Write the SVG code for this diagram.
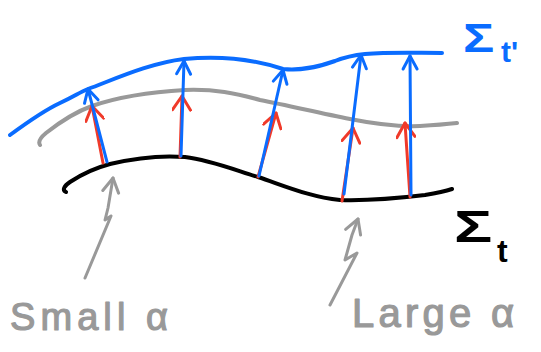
<svg xmlns="http://www.w3.org/2000/svg" width="541" height="352" viewBox="0 0 541 352">
<style>
.curve{fill:none;stroke-width:4;stroke-linecap:round;stroke-linejoin:round}
.blue{stroke:#0a6cff}
.gray{stroke:#999999}
.black{stroke:#000000}
.red{stroke:#f03a2a}
.shaft{fill:none;stroke-width:3;stroke-linecap:round;stroke-linejoin:round}
.lbl{font-family:"Liberation Sans",Arial,sans-serif}
.note{fill:#999999;stroke:#999999;stroke-width:1.2;stroke-linejoin:round}
</style>
<defs>
<marker id="hb" viewBox="-16 -10 20 20" markerWidth="20" markerHeight="20" refX="0" refY="0" orient="auto" markerUnits="userSpaceOnUse">
<path d="M-13,-7 L0,0 L-13,7" fill="none" stroke="#0a6cff" stroke-width="3" stroke-linecap="round" stroke-linejoin="round"/>
</marker>
<marker id="hr" viewBox="-16 -10 20 20" markerWidth="20" markerHeight="20" refX="0" refY="0" orient="auto" markerUnits="userSpaceOnUse">
<path d="M-14,-9 L0,0 L-14,9" fill="none" stroke="#f03a2a" stroke-width="3" stroke-linecap="round" stroke-linejoin="round"/>
</marker>
<marker id="hg" viewBox="-16 -10 20 20" markerWidth="20" markerHeight="20" refX="0" refY="0" orient="auto" markerUnits="userSpaceOnUse">
<path d="M-14,-8 L0,0 L-14,8" fill="none" stroke="#999999" stroke-width="3" stroke-linecap="round" stroke-linejoin="round"/>
</marker>
</defs>

<g id="surface-t">
<path class="curve black" d="M66,192 C62,190 64,186 70,182 C82,174 95,168 110,164 C135,158 160,155 185,157 C210,160 235,170 258,177 C285,186 310,197 340,200 C370,201 400,198 425,195 C437,193 446,191 452,189"/>
</g>
<g id="surface-mid">
<path class="curve gray" d="M40,145 C38,142 40,138 46,133 C60,122 75,112 92,106 C115,98 150,92 185,90 C215,89 235,93 260,100 C290,106 320,113 350,119 C375,124 395,127 420,126 C437,125 448,124 457,123"/>
</g>
<g id="surface-tprime">
<path class="curve blue" d="M10,135 C25,124 45,110 60,103 C75,96 80,92 88,89 C115,79 150,63 184,59 C215,56 250,58 283,69 C300,71 315,68 335,61 C345,57 355,55 365,54 C390,52 415,53 442,53"/>
</g>

<g id="connectors">
<path class="shaft red" d="M103,163 L92,106" marker-end="url(#hr)"/>
<path class="shaft red" d="M180,157 L182,96" marker-end="url(#hr)"/>
<path class="shaft red" d="M258,177 L276,113" marker-end="url(#hr)"/>
<path class="shaft red" d="M342,201 L353,128" marker-end="url(#hr)"/>
<path class="shaft red" d="M410,197 L405,123" marker-end="url(#hr)"/>
<path class="shaft blue" d="M107,162 L88,89" marker-end="url(#hb)"/>
<path class="shaft blue" d="M181,156 L184,61" marker-end="url(#hb)"/>
<path class="shaft blue" d="M259,176 L283,70" marker-end="url(#hb)"/>
<path class="shaft blue" d="M344,194 L361,55" marker-end="url(#hb)"/>
<path class="shaft blue" d="M411,195 L410,56" marker-end="url(#hb)"/>
<path class="shaft gray" d="M85,278 L111,216 L105,220 L108,208 L113,178" marker-end="url(#hg)"/>
<path class="shaft gray" d="M330,305 L357,253 L345,260 L352,235 L358,219" marker-end="url(#hg)"/>
</g>

<g id="label-tprime">
<text class="lbl" transform="translate(463,52) scale(1.3,1)" font-size="40" font-weight="bold" fill="#0a6cff">Σ</text>
<text class="lbl" x="501" y="62" font-size="30" font-weight="bold" fill="#0a6cff">t'</text>
</g>
<g id="label-t">
<text class="lbl" transform="translate(454,242) scale(1.45,1)" font-size="44" font-weight="bold" fill="#000000">Σ</text>
<text class="lbl" x="497" y="262" font-size="32" font-weight="bold" fill="#000000">t</text>
</g>
<g id="label-small">
<text class="lbl note" x="10" y="330" font-size="38" textLength="158" lengthAdjust="spacing">Small α</text>
</g>
<g id="label-large">
<text class="lbl note" x="352" y="327" font-size="40" textLength="162" lengthAdjust="spacing">Large α</text>
</g>
</svg>
